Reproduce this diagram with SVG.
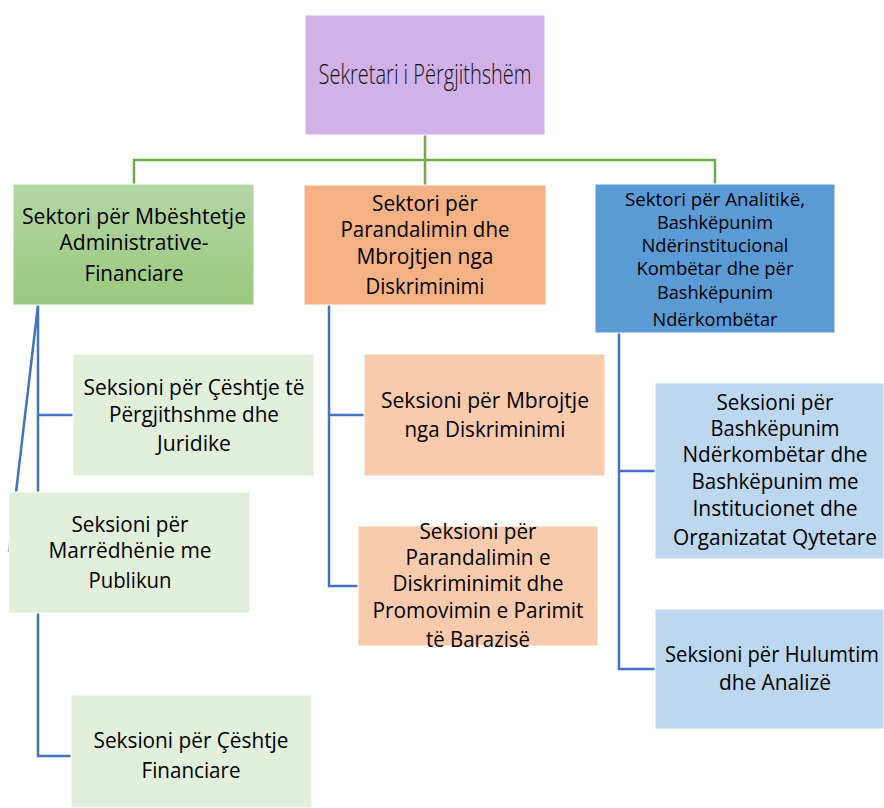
<svg xmlns="http://www.w3.org/2000/svg" width="884" height="808" viewBox="0 0 884 808">
<defs>
<linearGradient id="gGreen" x1="0" y1="0" x2="0" y2="1">
<stop offset="0" stop-color="#B4D6A5"/>
<stop offset="1" stop-color="#9BC87E"/>
</linearGradient>
<style>
.box{stroke:#FFFFFF;stroke-width:1}
.t{font-family:"Open Sans","Noto Sans","Liberation Sans",sans-serif;font-size:21px;fill:#000;text-anchor:middle}
.s{font-size:18px}
.lt{font-family:"Open Sans","Noto Sans","Liberation Sans",sans-serif;font-weight:300;font-size:27px;fill:#111;text-anchor:middle}
.cg{fill:none;stroke:#70AD47;stroke-width:2.5}
.cb{fill:none;stroke:#4472C4;stroke-width:2.5}
</style>
</defs>
<rect width="884" height="808" fill="#FFFFFF"/>
<g id="connectors">
<path class="cg" d="M425,135 V185 M134,184 V160 H715 V184"/>
<path class="cb" d="M38,305 V756 H72 M38,415 H74 M38,305 L9,552"/>
<path class="cb" d="M329,305 V586 H359 M329,415 H365"/>
<path class="cb" d="M619,333 V669 H656 M619,471 H656"/>
</g>
<g id="n-sekretari">
<rect class="box" x="305" y="15" width="240" height="120" fill="#D1B1E8"/>
<text class="lt" x="425" y="84" textLength="213" lengthAdjust="spacingAndGlyphs">Sekretari i Përgjithshëm</text>
</g>
<g id="n-sektor-admin">
<rect class="box" x="13" y="184" width="241" height="121" fill="url(#gGreen)"/>
<text class="t" x="134" y="224" textLength="224" lengthAdjust="spacingAndGlyphs">Sektori për Mbështetje</text>
<text class="t" x="134" y="250" textLength="149" lengthAdjust="spacingAndGlyphs">Administrative-</text>
<text class="t" x="134" y="281" textLength="99" lengthAdjust="spacingAndGlyphs">Financiare</text>
</g>
<g id="n-sektor-diskr">
<rect class="box" x="304" y="185" width="242" height="120" fill="#F4B183"/>
<text class="t" x="425" y="211" textLength="106" lengthAdjust="spacingAndGlyphs">Sektori për</text>
<text class="t" x="425" y="237" textLength="169" lengthAdjust="spacingAndGlyphs">Parandalimin dhe</text>
<text class="t" x="425" y="264" textLength="137" lengthAdjust="spacingAndGlyphs">Mbrojtjen nga</text>
<text class="t" x="425" y="294" textLength="119" lengthAdjust="spacingAndGlyphs">Diskriminimi</text>
</g>
<g id="n-sektor-analitike">
<rect class="box" x="595" y="184" width="240" height="149" fill="#5B9BD5"/>
<text class="t s" x="715" y="206" textLength="180" lengthAdjust="spacingAndGlyphs">Sektori për Analitikë,</text>
<text class="t s" x="715" y="229" textLength="116" lengthAdjust="spacingAndGlyphs">Bashkëpunim</text>
<text class="t s" x="715" y="252" textLength="147" lengthAdjust="spacingAndGlyphs">Ndërinstitucional</text>
<text class="t s" x="715" y="275" textLength="157" lengthAdjust="spacingAndGlyphs">Kombëtar dhe për</text>
<text class="t s" x="715" y="299" textLength="116" lengthAdjust="spacingAndGlyphs">Bashkëpunim</text>
<text class="t s" x="715" y="326" textLength="125" lengthAdjust="spacingAndGlyphs">Ndërkombëtar</text>
</g>
<g id="n-sek-pergjithshme">
<rect class="box" x="73" y="354" width="241" height="122" fill="#E2EFDA"/>
<text class="t" x="194" y="395" textLength="221" lengthAdjust="spacingAndGlyphs">Seksioni për Çështje të</text>
<text class="t" x="194" y="422" textLength="170" lengthAdjust="spacingAndGlyphs">Përgjithshme dhe</text>
<text class="t" x="194" y="451" textLength="74" lengthAdjust="spacingAndGlyphs">Juridike</text>
</g>
<g id="n-sek-publiku">
<rect class="box" x="9" y="492" width="241" height="121" fill="#E2EFDA"/>
<text class="t" x="130" y="532" textLength="117" lengthAdjust="spacingAndGlyphs">Seksioni për</text>
<text class="t" x="130" y="558" textLength="163" lengthAdjust="spacingAndGlyphs">Marrëdhënie me</text>
<text class="t" x="130" y="588" textLength="83" lengthAdjust="spacingAndGlyphs">Publikun</text>
</g>
<g id="n-sek-financiare">
<rect class="box" x="71" y="695" width="241" height="113" fill="#E2EFDA"/>
<text class="t" x="191" y="748" textLength="195" lengthAdjust="spacingAndGlyphs">Seksioni për Çështje</text>
<text class="t" x="191" y="778" textLength="99" lengthAdjust="spacingAndGlyphs">Financiare</text>
</g>
<g id="n-sek-mbrojtje">
<rect class="box" x="364" y="354" width="241" height="122" fill="#F8CBAD"/>
<text class="t" x="485" y="408" textLength="208" lengthAdjust="spacingAndGlyphs">Seksioni për Mbrojtje</text>
<text class="t" x="485" y="437" textLength="161" lengthAdjust="spacingAndGlyphs">nga Diskriminimi</text>
</g>
<g id="n-sek-parandalim">
<rect class="box" x="358" y="526" width="240" height="120" fill="#F8CBAD"/>
<text class="t" x="478" y="539" textLength="117" lengthAdjust="spacingAndGlyphs">Seksioni për</text>
<text class="t" x="478" y="565" textLength="145" lengthAdjust="spacingAndGlyphs">Parandalimin e</text>
<text class="t" x="478" y="591" textLength="171" lengthAdjust="spacingAndGlyphs">Diskriminimit dhe</text>
<text class="t" x="478" y="618" textLength="211" lengthAdjust="spacingAndGlyphs">Promovimin e Parimit</text>
<text class="t" x="478" y="647" textLength="104" lengthAdjust="spacingAndGlyphs">të Barazisë</text>
</g>
<g id="n-sek-bashkepunim">
<rect class="box" x="655" y="383" width="229" height="176" fill="#BDD7EE"/>
<text class="t" x="775" y="410" textLength="117" lengthAdjust="spacingAndGlyphs">Seksioni për</text>
<text class="t" x="775" y="436" textLength="129" lengthAdjust="spacingAndGlyphs">Bashkëpunim</text>
<text class="t" x="775" y="462" textLength="185" lengthAdjust="spacingAndGlyphs">Ndërkombëtar dhe</text>
<text class="t" x="775" y="489" textLength="167" lengthAdjust="spacingAndGlyphs">Bashkëpunim me</text>
<text class="t" x="775" y="516" textLength="165" lengthAdjust="spacingAndGlyphs">Institucionet dhe</text>
<text class="t" x="775" y="545" textLength="204" lengthAdjust="spacingAndGlyphs">Organizatat Qytetare</text>
</g>
<g id="n-sek-hulumtim">
<rect class="box" x="655" y="609" width="229" height="120" fill="#BDD7EE"/>
<text class="t" x="772" y="662" textLength="214" lengthAdjust="spacingAndGlyphs">Seksioni për Hulumtim</text>
<text class="t" x="775" y="690" textLength="112" lengthAdjust="spacingAndGlyphs">dhe Analizë</text>
</g>
</svg>
